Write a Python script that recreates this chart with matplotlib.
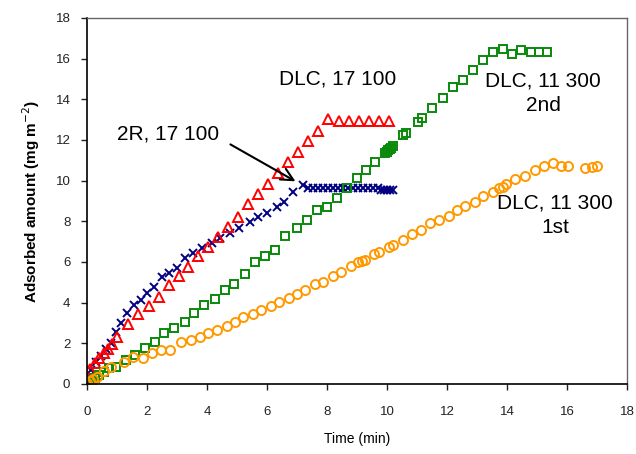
import matplotlib
matplotlib.use("Agg")
import matplotlib.pyplot as plt

# DLC, 17 100
dlc17_t = [0.02, 0.1, 0.27, 0.4, 0.55, 0.7, 0.83, 1.0, 1.37, 1.7, 2.07, 2.4, 2.73, 3.07,
           3.37, 3.7, 4.03, 4.37, 4.7, 5.03, 5.37, 5.7, 6.03, 6.37, 6.7, 7.03, 7.37,
           7.7, 8.03, 8.4, 8.73, 9.07, 9.4, 9.73, 10.07]
dlc17_a = [0.3, 0.75, 1.05, 1.3, 1.5, 1.72, 1.95, 2.3, 2.95, 3.45, 3.85, 4.3, 4.87, 5.33,
           5.76, 6.3, 6.74, 7.23, 7.72, 8.2, 8.85, 9.34, 9.84, 10.38, 10.9, 11.4, 11.95,
           12.45, 13.05, 12.95, 12.95, 12.95, 12.95, 12.95, 12.95]

# 2R, 17 100
r2_t = [0.0, 0.05, 0.13, 0.3, 0.47, 0.63, 0.8, 0.97, 1.13, 1.33, 1.57, 1.8, 2.0, 2.23,
        2.5, 2.73, 3.0, 3.27, 3.53, 3.83, 4.17, 4.43, 4.77, 5.07, 5.43, 5.7, 6.0, 6.33,
        6.57, 6.87, 7.2, 7.37, 7.53, 7.7, 7.87, 8.03, 8.2, 8.37, 8.53, 8.7, 8.87, 9.03,
        9.2, 9.37, 9.53, 9.7, 9.8, 9.9, 10.0, 10.1, 10.2]
r2_a = [0.0, 0.35, 0.69, 1.08, 1.38, 1.72, 2.02, 2.56, 3.0, 3.49, 3.89, 4.13, 4.48, 4.77,
        5.26, 5.46, 5.7, 6.2, 6.44, 6.69, 6.94, 7.18, 7.43, 7.67, 7.97, 8.2, 8.4, 8.7,
        8.95, 9.44, 9.8, 9.64, 9.62, 9.62, 9.62, 9.62, 9.62, 9.62, 9.62, 9.62, 9.62, 9.62,
        9.62, 9.62, 9.62, 9.62, 9.55, 9.55, 9.55, 9.55, 9.55]

# DLC, 11 300 (2nd)
dlc11b_t = [0.0, 0.05, 0.15, 0.25, 0.4, 0.57, 0.73, 0.97, 1.3, 1.6, 1.93, 2.27, 2.57, 2.9,
            3.27, 3.57, 3.9, 4.27, 4.6, 4.9, 5.27, 5.6, 5.93, 6.27, 6.6, 7.0, 7.33, 7.67,
            8.0, 8.33, 8.67, 9.0, 9.3, 9.6, 9.93, 10.0, 10.05, 10.1, 10.15, 10.2, 10.53,
            10.63, 11.05, 11.17, 11.5, 11.87, 12.2, 12.53, 12.87, 13.2, 13.53, 13.87,
            14.17, 14.47, 14.8, 15.07, 15.33]
dlc11b_a = [0.05, 0.1, 0.2, 0.3, 0.44, 0.6, 0.79, 0.84, 1.18, 1.43, 1.77, 2.07, 2.5, 2.75,
            3.05, 3.5, 3.87, 4.18, 4.62, 4.92, 5.41, 6.0, 6.3, 6.6, 7.28, 7.67, 8.07, 8.56,
            8.7, 9.15, 9.64, 10.13, 10.5, 10.9, 11.35, 11.4, 11.5, 11.57, 11.63, 11.7, 12.25,
            12.35, 12.9, 13.1, 13.58, 14.07, 14.6, 14.95, 15.45, 15.94, 16.33, 16.48,
            16.23, 16.43, 16.33, 16.33, 16.33]

# DLC, 11 300 (1st)
dlc11a_t = [0.0, 0.1, 0.2, 0.33, 0.57, 0.8, 1.23, 1.53, 1.87, 2.17, 2.47, 2.77, 3.13, 3.47,
            3.77, 4.03, 4.33, 4.67, 4.93, 5.2, 5.53, 5.8, 6.13, 6.4, 6.73, 7.0, 7.27, 7.6,
            7.87, 8.2, 8.47, 8.8, 9.03, 9.17, 9.27, 9.57, 9.73, 10.07, 10.2, 10.53, 10.85,
            11.13, 11.43, 11.73, 12.07, 12.33, 12.6, 12.93, 13.2, 13.53, 13.73, 13.87,
            13.97, 14.27, 14.6, 14.93, 15.23, 15.53, 15.8, 16.03, 16.6, 16.83, 17.0]
dlc11a_a = [0.05, 0.15, 0.25, 0.34, 0.64, 0.84, 1.08, 1.33, 1.28, 1.52, 1.67, 1.67, 2.07, 2.16,
            2.31, 2.5, 2.66, 2.85, 3.05, 3.3, 3.44, 3.64, 3.84, 4.03, 4.23, 4.43, 4.62, 4.92,
            5.02, 5.31, 5.51, 5.8, 6.0, 6.05, 6.1, 6.39, 6.49, 6.74, 6.84, 7.08, 7.38,
            7.55, 7.9, 8.07, 8.26, 8.56, 8.76, 8.95, 9.25, 9.44, 9.64, 9.69,
            9.84, 10.08, 10.23, 10.53, 10.72, 10.87, 10.72, 10.72, 10.62, 10.67, 10.72]

plt.rcParams['font.family'] = ['Liberation Sans', 'DejaVu Sans']

fig = plt.figure(figsize=(6.36, 4.54), dpi=100)
ax = fig.add_axes([0.1368, 0.1542, 0.849, 0.8062])

ax.plot(r2_t, r2_a, ls='none', marker='x', ms=6, mew=1.4, color='#000080')
ax.plot(dlc17_t, dlc17_a, ls='none', marker='^', ms=6.5, mew=1.4, mfc='none', color='#FF0000')
ax.plot(dlc11b_t, dlc11b_a, ls='none', marker='s', ms=6, mew=1.4, mfc='none', color='#0A8A0A')
ax.plot(dlc11a_t, dlc11a_a, ls='none', marker='o', ms=6.5, mew=1.4, mfc='none', color='#FF9900')

ax.set_xlim(0, 18)
ax.set_ylim(0, 18)
ax.set_xticks(range(0, 19, 2))
ax.set_yticks(range(0, 19, 2))
ax.tick_params(direction='out', length=4, width=1, labelsize=9.5, pad=8, colors='#222222')
ax.tick_params(axis='x', pad=12)

for side in ('left', 'bottom'):
    ax.spines[side].set_color('black')
    ax.spines[side].set_linewidth(1.2)
for side in ('top', 'right'):
    ax.spines[side].set_color('#666666')
    ax.spines[side].set_linewidth(1.0)

ax.set_xlabel('Time (min)', fontsize=10, labelpad=10)
ax.set_ylabel('Adsorbed amount (mg m$^{-2}$)', fontsize=11, fontweight='bold', labelpad=10)

ax.text(8.35, 15.0, 'DLC, 17 100', fontsize=15, ha='center', va='center')
ax.text(2.7, 12.3, '2R, 17 100', fontsize=15, ha='center', va='center')
ax.text(15.2, 14.3, 'DLC, 11 300\n2nd', fontsize=15, ha='center', va='center', linespacing=1.4)
ax.text(15.6, 8.3, 'DLC, 11 300\n1st', fontsize=15, ha='center', va='center', linespacing=1.4)

ax.annotate('', xy=(7.03, 9.9), xytext=(4.7, 11.85),
            arrowprops=dict(arrowstyle='->', color='black', lw=1.5, mutation_scale=22))

fig.savefig('out.png', dpi=100)
